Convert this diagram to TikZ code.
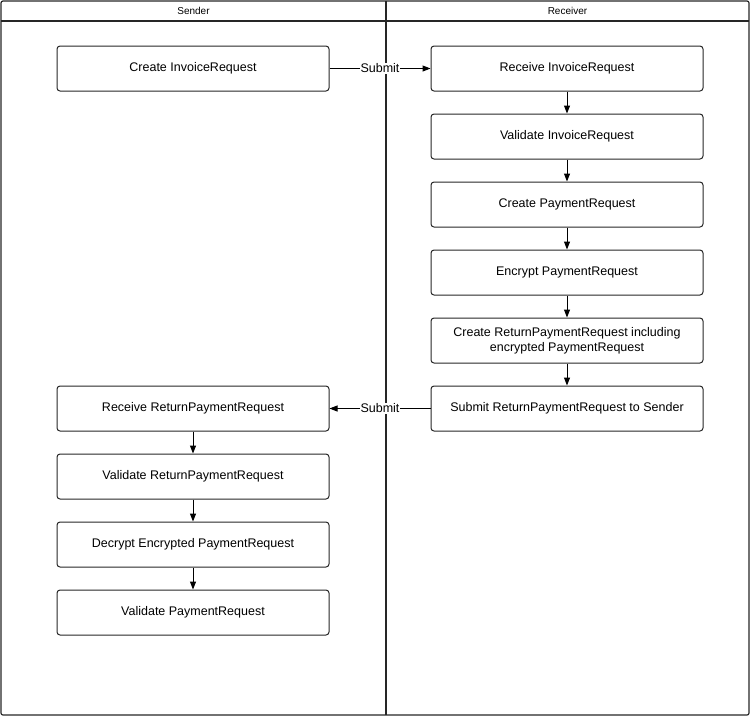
\documentclass[tikz,border=0pt]{standalone}
\usepackage{fontspec}
\setmainfont{Liberation Sans}
\usetikzlibrary{arrows.meta}
\begin{document}
\begin{tikzpicture}[x=1pt,y=-1pt,
  stepbox/.style={draw=black!85, line width=1pt, rounded corners=3pt, minimum width=272pt, minimum height=45pt, align=center, font=\fontsize{12.5}{15}\selectfont, inner sep=2pt},
  flow/.style={draw=black, line width=1pt, -{Triangle[length=8pt,width=6pt]}},
  lbl/.style={fill=white, inner sep=1pt, font=\fontsize{12.5}{15}\selectfont},
  lane/.style={draw=black!85, line width=1.2pt}]
\useasboundingbox (0,0) rectangle (750,716);
\draw[lane, rounded corners=2pt] (1,1) rectangle (749,715);
\draw[lane] (1,21) -- (749,21);
\draw[lane] (386,1) -- (386,715);
\node[font=\fontsize{10}{12}\selectfont] (hs) at (193.5,11) {Sender};
\node[font=\fontsize{10}{12}\selectfont] (hr) at (567.5,11) {Receiver};
% left column
\node[stepbox] (l1) at (193,68.5) {Create InvoiceRequest};
\node[stepbox] (l2) at (193,408.5) {Receive ReturnPaymentRequest};
\node[stepbox] (l3) at (193,476.5) {Validate ReturnPaymentRequest};
\node[stepbox] (l4) at (193,544.5) {Decrypt Encrypted PaymentRequest};
\node[stepbox] (l5) at (193,612.5) {Validate PaymentRequest};
% right column
\node[stepbox] (r1) at (567,68.5) {Receive InvoiceRequest};
\node[stepbox] (r2) at (567,136.5) {Validate InvoiceRequest};
\node[stepbox] (r3) at (567,204.5) {Create PaymentRequest};
\node[stepbox] (r4) at (567,272.5) {Encrypt PaymentRequest};
\node[stepbox] (r5) at (567,340.5) {Create ReturnPaymentRequest including\\encrypted PaymentRequest};
\node[stepbox] (r6) at (567,408.5) {Submit ReturnPaymentRequest to Sender};
% connectors
\draw[flow] (l1) -- node[lbl] {Submit} (r1);
\draw[flow] (r6) -- node[lbl] {Submit} (l2);
\draw[flow] (r1) -- (r2);
\draw[flow] (r2) -- (r3);
\draw[flow] (r3) -- (r4);
\draw[flow] (r4) -- (r5);
\draw[flow] (r5) -- (r6);
\draw[flow] (l2) -- (l3);
\draw[flow] (l3) -- (l4);
\draw[flow] (l4) -- (l5);
\end{tikzpicture}
\end{document}
